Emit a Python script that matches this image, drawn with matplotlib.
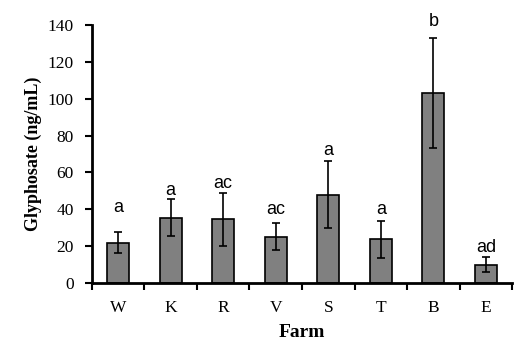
import numpy as np
import matplotlib.pyplot as plt

# Glyphosate per farm (mean and error), with significance letters
farms = ['W', 'K', 'R', 'V', 'S', 'T', 'B', 'E']
glyphosate = np.array([21.8, 35.5, 34.5, 25.2, 48.0, 23.8, 103.2, 10.0])
erro = np.array([5.7, 10.0, 14.3, 7.2, 18.0, 10.0, 30.0, 4.0])
letras = ['a', 'a', 'ac', 'ac', 'a', 'a', 'b', 'ad']

# altura das letras
letra_y = [41, 50, 54, 40, 72, 40, 142, 19.5]

plt.rcParams['font.family'] = ['Liberation Serif', 'DejaVu Serif']

fig = plt.figure(figsize=(5.28, 3.52), dpi=100)
ax = fig.add_axes([0.174, 0.196, 0.796, 0.733])

x = np.arange(len(farms))
ax.bar(x, glyphosate, width=0.42, color='#808080', edgecolor='black', linewidth=1.2,
       yerr=erro, error_kw=dict(ecolor='black', elinewidth=1.2, capsize=3, capthick=1.2))

for i in range(len(farms)):
    ax.text(x[i], letra_y[i], letras[i], ha='center', va='center',
            fontsize=13, family=['Liberation Sans', 'DejaVu Sans'])

ax.set_xlim(-0.5, len(farms) - 0.5)
ax.set_ylim(0, 140)
ax.set_yticks(np.arange(0, 141, 20))
ax.set_xticks(x)
ax.set_xticklabels(farms)
ax.set_xticks(np.arange(-0.5, len(farms), 1), minor=True)
ax.tick_params(axis='x', which='major', length=0, pad=12, labelsize=12.5)
ax.tick_params(axis='x', which='minor', length=5, width=1.5, direction='out')
ax.tick_params(axis='y', length=5, width=1.5, direction='out', labelsize=12.5, pad=8)

for s in ['top', 'right']:
    ax.spines[s].set_visible(False)
for s in ['left', 'bottom']:
    ax.spines[s].set_linewidth(2)

ax.set_xlabel('Farm', fontsize=14, fontweight='bold', labelpad=6)
ax.set_ylabel('Glyphosate (ng/mL)', fontsize=13, fontweight='bold', labelpad=4)

plt.savefig('out.png', dpi=100)
